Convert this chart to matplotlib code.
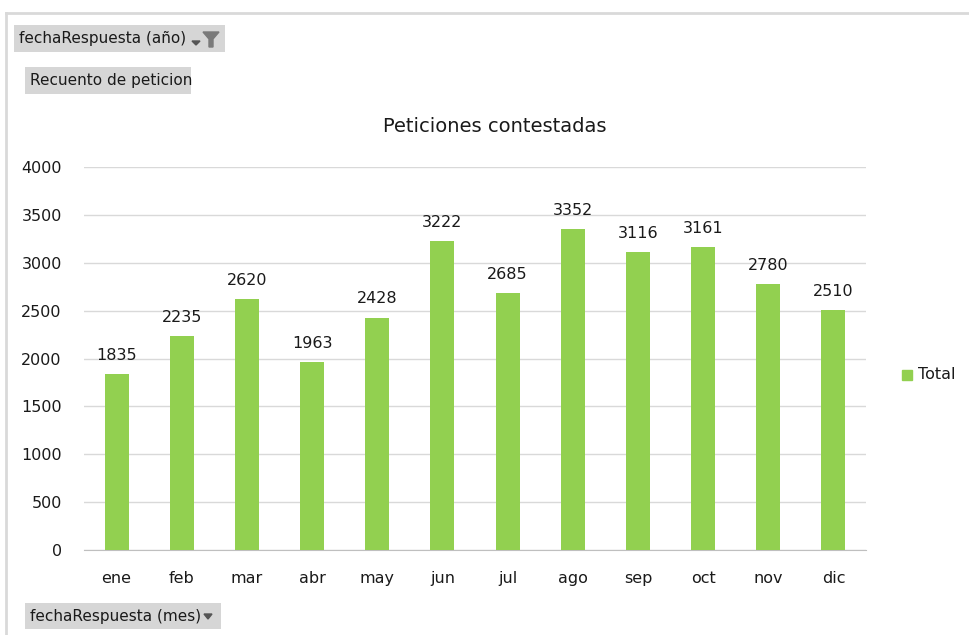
import matplotlib.pyplot as plt
from matplotlib.patches import Rectangle, Polygon

# datos del gráfico dinámico
meses = ['ene', 'feb', 'mar', 'abr', 'may', 'jun', 'jul', 'ago', 'sep', 'oct', 'nov', 'dic']
totales = [1835, 2235, 2620, 1963, 2428, 3222, 2685, 3352, 3116, 3161, 2780, 2510]
yticks = [0, 500, 1000, 1500, 2000, 2500, 3000, 3500, 4000]

verde = '#92D050'
W, H = 970, 635

fig = plt.figure(figsize=(W / 100, H / 100), dpi=100, facecolor='white')

# convertir pixeles a fracción de figura
def fx(px):
    return px / W

def fy(py):
    return 1 - py / H

ax = fig.add_axes([fx(84), fy(550), fx(866) - fx(84), fy(167) - fy(550)])
x = range(len(meses))
ax.bar(x, totales, width=0.37, color=verde, zorder=3)
for i, v in zip(x, totales):
    ax.annotate(str(v), (i, v), xytext=(0, 8), textcoords='offset points',
                ha='center', va='bottom', fontsize=11.5, color='#1a1a1a')

ax.set_xlim(-0.5, len(meses) - 0.5)
ax.set_ylim(0, 4000)
ax.set_yticks(yticks)
ax.set_xticks(list(x))
ax.set_xticklabels(meses)
ax.tick_params(axis='both', length=0, labelsize=11.5, labelcolor='#1a1a1a')
ax.tick_params(axis='x', pad=15)
ax.tick_params(axis='y', pad=16)
ax.grid(axis='y', color='#D9D9D9', linewidth=1, zorder=0)
for s in ['top', 'right', 'left']:
    ax.spines[s].set_visible(False)
ax.spines['bottom'].set_color('#BFBFBF')

fig.text(fx(495), fy(127), 'Peticiones contestadas', ha='center', va='center',
         fontsize=14, color='#1a1a1a')

# leyenda
fig.patches.append(Rectangle((fx(902), fy(380)), fx(10), fy(370) - fy(380),
                             transform=fig.transFigure, color=verde))
fig.text(fx(918), fy(375), 'Total', ha='left', va='center', fontsize=11.5, color='#1a1a1a')

# borde del área del gráfico
fig.add_artist(plt.Line2D([fx(6), fx(6)], [fy(13), 0], color='#D9D9D9', lw=2))
fig.add_artist(plt.Line2D([fx(6), 1], [fy(13), fy(13)], color='#D9D9D9', lw=2))

# botones de campo
botones = [
    ('fechaRespuesta (año)', 14, 25, 225, 52),
    ('Recuento de peticion', 25, 67, 191, 94),
    ('fechaRespuesta (mes)', 25, 603, 221, 629),
]
for txt, x0, y0, x1, y1 in botones:
    fig.patches.append(Rectangle((fx(x0), fy(y1)), fx(x1 - x0), fy(y0) - fy(y1),
                                 transform=fig.transFigure, facecolor='#D6D6D6',
                                 edgecolor='none'))
    fig.text(fx(x0 + 5), fy((y0 + y1) / 2), txt, ha='left', va='center',
             fontsize=11, color='#1a1a1a')

# flecha y filtro del primer botón
fig.patches.append(Polygon([(fx(192), fy(41)), (fx(200), fy(41)), (fx(196), fy(45))],
                           transform=fig.transFigure, color='#555555'))
fig.patches.append(Polygon([(fx(203), fy(32)), (fx(219), fy(32)), (fx(213), fy(39)),
                            (fx(213), fy(47)), (fx(209), fy(47)), (fx(209), fy(39))],
                           transform=fig.transFigure, color='#7a7a7a'))
# flecha del botón de meses
fig.patches.append(Polygon([(fx(204), fy(614)), (fx(212), fy(614)), (fx(208), fy(619))],
                           transform=fig.transFigure, color='#555555'))

fig.savefig('out.png', dpi=100, facecolor='white')
